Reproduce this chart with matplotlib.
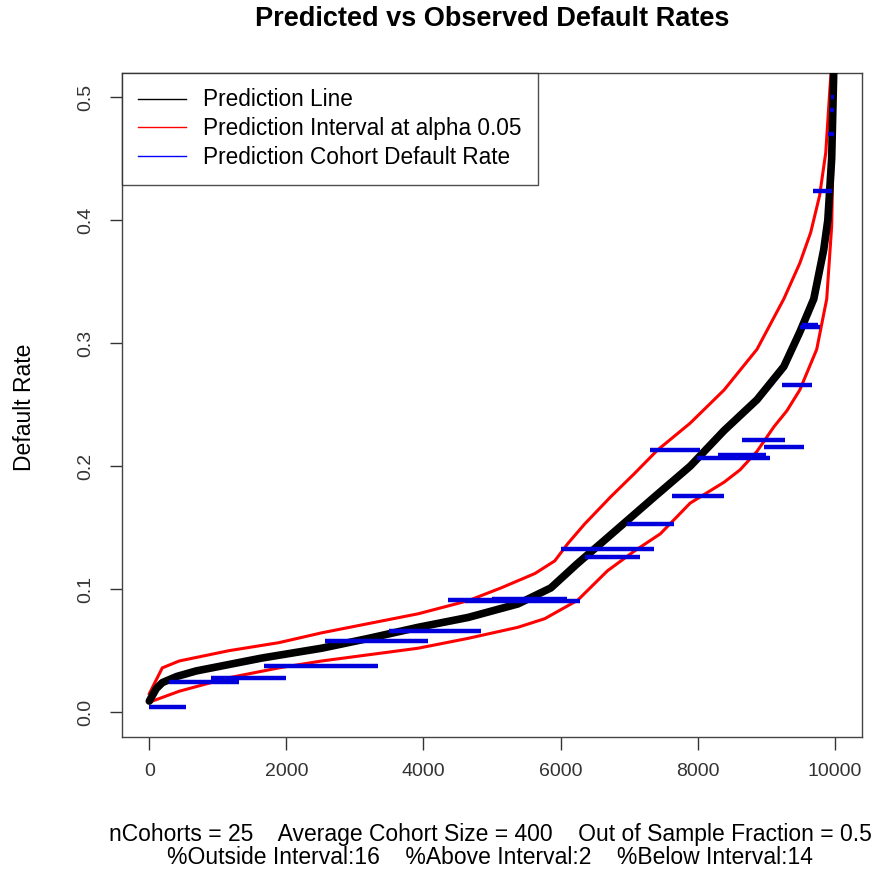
import matplotlib.pyplot as plt

plt.rcParams['font.family'] = ['Liberation Sans', 'DejaVu Sans']

# prediction line (sorted predicted default rate vs observation index)
pred_x = [0, 100, 189, 400, 683, 1642, 2515, 3200, 3924, 4651, 5378, 5858, 6250, 6584, 6977,
          7369, 7892, 8387, 8866, 9258, 9491, 9695, 9840, 9900, 9956, 9985, 10000]
pred_y = [0.009, 0.019, 0.024, 0.029, 0.0335, 0.044, 0.052, 0.060, 0.069, 0.077, 0.088, 0.101,
          0.121, 0.137, 0.156, 0.175, 0.200, 0.229, 0.254, 0.281, 0.309, 0.336, 0.376, 0.400,
          0.450, 0.518, 0.56]

# prediction interval bounds
upper_x = [0, 189, 436, 1163, 1890, 2515, 3924, 4651, 5131, 5625, 5916, 6105, 6352, 6730,
           7078, 7413, 7892, 8387, 8866, 9258, 9491, 9650, 9780, 9870, 9927, 9960]
upper_y = [0.015, 0.036, 0.0416, 0.050, 0.0565, 0.0645, 0.080, 0.0906, 0.101, 0.1127, 0.123,
           0.137, 0.153, 0.175, 0.194, 0.213, 0.235, 0.262, 0.295, 0.336, 0.365, 0.390, 0.420,
           0.455, 0.504, 0.53]
lower_x = [44, 436, 1163, 1890, 2515, 3924, 4651, 5378, 5770, 6250, 6686, 7078, 7456, 7892,
           8387, 8619, 8866, 9113, 9302, 9491, 9738, 9884, 9956, 9985, 10010]
lower_y = [0.009, 0.017, 0.028, 0.036, 0.0416, 0.052, 0.060, 0.069, 0.076, 0.091, 0.115, 0.131,
           0.145, 0.170, 0.187, 0.197, 0.212, 0.232, 0.245, 0.262, 0.295, 0.336, 0.395, 0.477,
           0.53]

# observed default rate of each cohort, drawn across its index range
cohort_start = [0, 290, 900, 1670, 2570, 3490, 4360, 4600, 5000, 6000, 6350, 6977, 7630,
                7310, 7994, 8300, 8648, 8968, 9230, 9491, 9520, 9680, 9900, 9930, 9950]
cohort_end = [538, 1308, 2000, 3343, 4070, 4840, 5900, 6290, 6100, 7370, 7165, 7660, 8390,
              8040, 9055, 9000, 9273, 9549, 9665, 9782, 9760, 9956, 9985, 9990, 9995]
cohort_rate = [0.004, 0.0245, 0.028, 0.0376, 0.058, 0.066, 0.091, 0.090, 0.092, 0.133, 0.126,
               0.153, 0.176, 0.213, 0.207, 0.209, 0.221, 0.216, 0.266, 0.313, 0.315, 0.424,
               0.47, 0.49, 0.50]

fig = plt.figure(figsize=(8.77, 8.75), dpi=100)
ax = fig.add_axes([0.139, 0.158, 0.844, 0.759])

ax.plot(upper_x, upper_y, color='red', lw=2.2, zorder=2)
ax.plot(lower_x, lower_y, color='red', lw=2.2, zorder=2)
ax.plot(pred_x, pred_y, color='black', lw=5.5, solid_capstyle='round', zorder=3)
ax.hlines(cohort_rate, cohort_start, cohort_end, color='#0000dd', lw=3.2, zorder=4)

# legend entries
ax.plot([], [], color='black', lw=1, label='Prediction Line')
ax.plot([], [], color='red', lw=1, label='Prediction Interval at alpha 0.05')
ax.plot([], [], color='blue', lw=1, label='Prediction Cohort Default Rate')
handles, labels = ax.get_legend_handles_labels()
leg = ax.legend(handles[-3:], labels[-3:], loc='upper left', fontsize=16.3, frameon=True,
                fancybox=False, edgecolor='#222222', borderaxespad=0, handlelength=2.15,
                handletextpad=0.75, labelspacing=0.26, borderpad=0.7)
leg.get_frame().set_linewidth(1)

ax.set_xlim(-400, 10400)
ax.set_ylim(-0.02, 0.52)
ax.set_xticks([0, 2000, 4000, 6000, 8000, 10000])
ax.set_yticks([0.0, 0.1, 0.2, 0.3, 0.4, 0.5])
ax.set_yticklabels(['0.0', '0.1', '0.2', '0.3', '0.4', '0.5'], rotation=90, va='center')
ax.tick_params(direction='out', length=9, width=1, labelsize=14, pad=10, colors='#333333')
ax.tick_params(axis='y', pad=11)
for s in ax.spines.values():
    s.set_color('#444444')
    s.set_linewidth(1)

fig.text(25 / 877, 1 - 407 / 875, 'Default Rate', rotation=90, ha='center', va='center',
         fontsize=16.5)
fig.text(492 / 877, 1 - 19 / 875, 'Predicted vs Observed Default Rates', ha='center',
         va='center', fontsize=19.5, fontweight='bold')
fig.text(490 / 877, 1 - 834 / 875,
         'nCohorts = 25    Average Cohort Size = 400    Out of Sample Fraction = 0.5',
         ha='center', va='center', fontsize=16.5)
fig.text(490 / 877, 1 - 858 / 875,
         '%Outside Interval:16    %Above Interval:2    %Below Interval:14',
         ha='center', va='center', fontsize=16.5)

fig.savefig('out.png', dpi=100)
